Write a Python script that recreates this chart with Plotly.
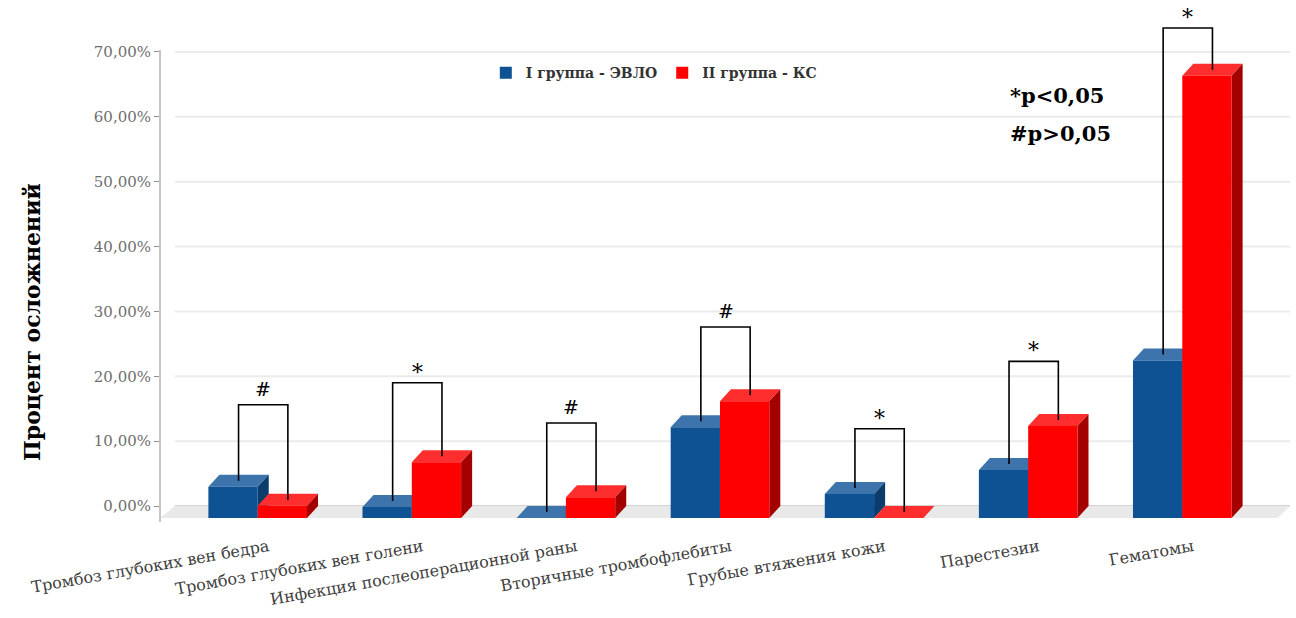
import plotly.graph_objects as go

# Complication rates (%) by group
categories = [
    "Тромбоз глубоких вен бедра",
    "Тромбоз глубоких вен голени",
    "Инфекция послеоперационной раны",
    "Вторичные тромбофлебиты",
    "Грубые втяжения кожи",
    "Парестезии",
    "Гематомы",
]
evlo = [4.8, 1.7, 0.0, 14.0, 3.7, 7.4, 24.3]
ks = [1.9, 8.6, 3.2, 18.0, 0.0, 14.2, 68.2]
significance = ["#", "*", "#", "#", "*", "*", "*"]
y_ticks = [0, 10, 20, 30, 40, 50, 60, 70]
y_tick_text = [f"{t:.2f}".replace(".", ",") + "%" for t in y_ticks]

# Height of each comparison bracket (axis units)
bracket_level = [15.6, 19.0, 12.8, 27.6, 11.9, 22.3, 73.7]

# Pseudo-3D geometry: bar width and oblique depth offsets (axis units)
W = 0.32
DX = 0.0715
DY = 1.85
X_MIN, X_MAX = -0.634, 6.699
Y_MIN, Y_MAX = -2.775, 76.47

BLUE = dict(front="#0e5294", top="#3d74ab", side="#0a3c6c")
RED = dict(front="#ff0000", top="#ff2e2e", side="#a50000")

SERIF = "DejaVu Serif"

fig = go.Figure()
idx = list(range(len(categories)))

fig.add_trace(go.Bar(
    x=[i - W / 2 for i in idx], y=evlo, base=-DY, width=W,
    marker=dict(color=BLUE["front"], line=dict(width=0)),
    name="<b>I группа - ЭВЛО</b>",
))
fig.add_trace(go.Bar(
    x=[i + W / 2 for i in idx], y=ks, base=-DY, width=W,
    marker=dict(color=RED["front"], line=dict(width=0)),
    name="<b>II группа - КС</b>",
))


def poly(points):
    return "M " + " L ".join(f"{x:.4f},{y:.4f}" for x, y in points) + " Z"


shapes = []

# back-wall gridlines
for t in y_ticks:
    shapes.append(dict(
        type="line", xref="x", yref="y", layer="below",
        x0=X_MIN + 0.097, x1=X_MAX, y0=t, y1=t,
        line=dict(color="#c4c4c4" if t == 0 else "#ebebeb", width=2 if t else 1.5),
    ))

# floor
shapes.append(dict(
    type="path", xref="x", yref="y", layer="below",
    path=poly([(X_MIN, -DY), (X_MAX - 0.08, -DY), (X_MAX, 0), (X_MIN + 0.097, 0)]),
    fillcolor="#e9e9e9", line=dict(width=0),
))

# top and side faces of each bar, blue first so red overlaps it
for i in idx:
    for left, v, col in ((i - W, evlo[i], BLUE), (i, ks[i], RED)):
        right = left + W
        shapes.append(dict(
            type="path", xref="x", yref="y", layer="below",
            path=poly([(left, v - DY), (right, v - DY), (right + DX, v), (left + DX, v)]),
            fillcolor=col["top"], line=dict(width=0),
        ))
        if v > 0:
            shapes.append(dict(
                type="path", xref="x", yref="y", layer="below",
                path=poly([(right, -DY), (right, v - DY), (right + DX, v), (right + DX, 0)]),
                fillcolor=col["side"], line=dict(width=0),
            ))

# significance brackets
annotations = []
for i in idx:
    xl = i - W / 2 + DX / 2
    xr = i + W / 2 + DX / 2
    lvl = bracket_level[i]
    shapes.append(dict(
        type="path", xref="x", yref="y", layer="above",
        path=(f"M {xl},{evlo[i] - DY / 2} L {xl},{lvl} "
              f"L {xr},{lvl} L {xr},{ks[i] - DY / 2}"),
        line=dict(color="black", width=1.6),
    ))
    annotations.append(dict(
        x=(xl + xr) / 2, y=lvl, xref="x", yref="y",
        text=significance[i], showarrow=False,
        yanchor="bottom", yshift=3 if significance[i] == "#" else -4,
        font=dict(family=SERIF, size=19 if significance[i] == "#" else 22, color="black"),
    ))

# y-axis line
shapes.append(dict(
    type="line", xref="paper", yref="y", x0=0, x1=0, y0=-2.45, y1=70.3,
    line=dict(color="#8c8c8c", width=1),
))

annotations += [
    dict(xref="paper", yref="paper", x=0.7504, y=0.8346, xanchor="left", yanchor="middle",
         text="<b>*p&lt;0,05</b>", showarrow=False,
         font=dict(family=SERIF, size=21, color="black")),
    dict(xref="paper", yref="paper", x=0.7504, y=0.7588, xanchor="left", yanchor="middle",
         text="<b>#p&gt;0,05</b>", showarrow=False,
         font=dict(family=SERIF, size=21, color="black")),
    dict(xref="paper", yref="paper", x=-0.1133, y=0.393, xanchor="center", yanchor="middle",
         text="<b>Процент осложнений</b>", textangle=-90, showarrow=False,
         font=dict(family=SERIF, size=22, color="black")),
]

fig.update_layout(
    width=1296, height=618,
    margin=dict(l=160, r=6, t=10, b=94),
    paper_bgcolor="white", plot_bgcolor="white",
    barmode="overlay",
    shapes=shapes,
    annotations=annotations,
    showlegend=True,
    legend=dict(
        orientation="h", x=0.437, y=0.877, xanchor="center", yanchor="middle",
        font=dict(family=SERIF, size=14, color="#333333"),
        itemwidth=30, bgcolor="rgba(0,0,0,0)",
    ),
    xaxis=dict(
        range=[X_MIN, X_MAX], tickvals=[i + 0.07 for i in idx], ticktext=categories,
        tickangle=-10, showgrid=False, zeroline=False, showline=False, ticks="",
        ticklabelstandoff=10,
        tickfont=dict(family=SERIF, size=16, color="#404040"),
    ),
    yaxis=dict(
        range=[Y_MIN, Y_MAX], tickvals=y_ticks, ticktext=y_tick_text,
        showgrid=False, zeroline=False, showline=False,
        ticks="outside", ticklen=5, tickcolor="#8c8c8c",
        tickfont=dict(family=SERIF, size=15, color="#6e6e6e"),
    ),
)

fig.write_html("out.html")
